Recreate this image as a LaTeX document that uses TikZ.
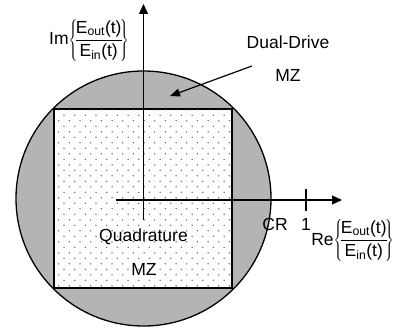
\documentclass[tikz,border=0pt]{standalone}
\usepackage{fontspec}
\setmainfont{Liberation Sans}
\usetikzlibrary{arrows.meta}
\definecolor{circgray}{RGB}{180,180,180}
\definecolor{dotgray}{RGB}{95,95,95}
\newcommand\ratiolabel[1]{#1$\displaystyle\left\{\!\frac{\mbox{E\textsubscript{out}(t)}}{\mbox{E\textsubscript{in}(t)}}\!\right\}$}
\begin{document}
\begin{tikzpicture}[x=1pt,y=-1pt,
  lbl/.style={inner sep=0pt,font=\fontsize{17.5}{21}\selectfont},
  outline/.style={line width=1.3pt},
  axisline/.style={line width=1.3pt,-{Triangle[length=10pt,width=9pt]}},
  pointer/.style={line width=1.2pt,-{Triangle[length=10pt,width=8pt]}}]
\useasboundingbox (0,0) rectangle (395,331);
% regions
\draw[outline,fill=circgray] (143.5,198.5) circle (127.5);
\draw[outline,fill=white] (54,109) rectangle (232,288);
\begin{scope}
  \clip (55,110) rectangle (231,287);
  \foreach \k in {-1,...,33}{
    \foreach \i in {-1,...,17}{
      \fill[dotgray] ({58.7+10.67*\i+5.33*mod(\k+1,2)},{115.3+5.5*\k}) circle (0.75);
    }
  }
\end{scope}
% axes
\coordinate (xs) at (116,200);
\coordinate (xe) at (342,200);
\coordinate (ys) at (143.5,220);
\coordinate (ye) at (143.5,4);
\draw[axisline] (xs) -- (xe);
\draw[axisline] (ys) -- (ye);
\coordinate (t1) at (306,189);
\coordinate (t2) at (306,211);
\draw[line width=1.2pt] (t1) -- (t2);
% labels
\node[lbl,anchor=base] (cr) at (275,230.7) {CR};
\node[lbl,anchor=base] (one) at (306,230.7) {1};
\node[lbl,anchor=base east] (re) at (394,245) {\ratiolabel{Re}};
\node[lbl,anchor=base west] (im) at (49,45) {\ratiolabel{Im}};
\node[lbl,anchor=base] (dd) at (288,48.7) {Dual-Drive};
\node[lbl,anchor=base] (ddmz) at (288,81.7) {MZ};
\node[lbl,anchor=base] (qd) at (143.5,241.7) {Quadrature};
\node[lbl,anchor=base] (qdmz) at (144,275) {MZ};
% pointer
\coordinate (pa) at (252,66);
\coordinate (pb) at (170,96);
\draw[pointer] (pa) -- (pb);
\end{tikzpicture}
\end{document}
